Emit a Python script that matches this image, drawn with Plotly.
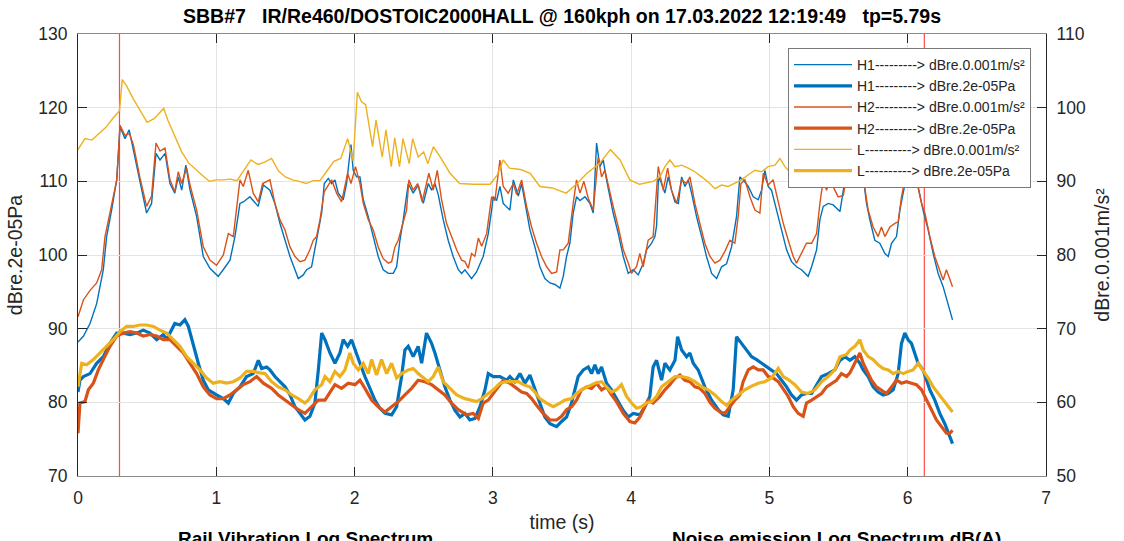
import plotly.graph_objects as go

# ---------------- data ----------------
# thin lines: vibration level, dB re 0.001 m/s^2 (right axis)
H1_ACC = [
(0,68.2),(0.04,69),(0.087,70.7),(0.135,73.4),(0.183,78.0),(0.207,82.5),(0.243,86.1),(0.28,90.2),(0.304,97.4),(0.34,95.8),
(0.37,97.0),(0.40,94.3),(0.448,89.7),(0.496,85.7),(0.532,87),(0.564,93.8),(0.593,92.9),(0.63,93.8),(0.665,89.7),(0.70,88.4),
(0.725,90.6),(0.75,88.8),(0.78,92.2),(0.81,88.8),(0.858,85.2),(0.906,79.8),(0.954,78.2),(1.014,77.1),(1.05,78),(1.099,79.3),
(1.135,82.5),(1.171,87),(1.195,87.2),(1.243,87.9),(1.303,86.6),(1.34,89.5),(1.388,88.8),(1.424,87),(1.46,84.3),(1.497,82),
(1.533,79.8),(1.569,78),(1.593,76.8),(1.629,77.3),(1.653,78),(1.689,78.4),(1.713,80.7),(1.738,83.4),(1.762,85.7),(1.781,89.7),
(1.81,90.4),(1.834,89.7),(1.858,90.2),(1.882,88.4),(1.918,87.5),(1.942,89.7),(1.974,95),(1.99,91.5),(2.015,90.6),(2.039,90.6),
(2.063,87.5),(2.099,85.2),(2.135,82.5),(2.171,79.8),(2.207,78),(2.244,77.5),(2.28,77.5),(2.304,78.4),(2.328,82),(2.352,84.8),
(2.388,89.7),(2.424,88.4),(2.46,89.5),(2.497,87),(2.533,89.7),(2.557,88.8),(2.581,89.7),(2.605,88.2),(2.641,84.8),(2.677,82),
(2.713,79.8),(2.75,78),(2.774,77.5),(2.798,78),(2.846,76.8),(2.882,77.7),(2.93,79.8),(2.967,82.9),(2.991,86.1),(3.003,87.9),
(3.027,87.4),(3.051,89.3),(3.075,87),(3.123,86.1),(3.148,90.2),(3.184,88),(3.208,89.7),(3.232,87),(3.268,83.4),(3.304,81.1),
(3.34,78.4),(3.376,76.8),(3.413,76.2),(3.449,76.0),(3.485,75.5),(3.509,77.1),(3.533,79.8),(3.557,81.6),(3.581,85.7),(3.605,87.9),
(3.63,87.4),(3.666,87.9),(3.702,87),(3.726,85.7),(3.75,95.2),(3.774,92),(3.798,92.9),(3.822,90.2),(3.87,85.7),(3.907,82.9),
(3.943,79.8),(3.979,77.5),(4.015,78),(4.051,77.3),(4.087,78.8),(4.111,80.7),(4.148,81.6),(4.172,82.5),(4.184,84),(4.198,90.6),
(4.22,89.7),(4.244,88.4),(4.268,90.6),(4.292,88.8),(4.317,87.2),(4.341,87),(4.365,90.6),(4.389,89.3),(4.413,90.2),(4.437,88.4),
(4.473,85.2),(4.51,82.5),(4.545,79.8),(4.582,77.5),(4.618,76.8),(4.654,78.4),(4.69,78.8),(4.726,81.1),(4.762,85.2),(4.786,90.6),
(4.81,90.2),(4.847,89.3),(4.883,87.9),(4.919,87.5),(4.943,88.8),(4.967,91.5),(4.991,89.3),(5.015,88.8),(5.051,86.1),(5.088,83.4),
(5.124,80.7),(5.16,79.1),(5.196,78.4),(5.232,78),(5.28,77.1),(5.305,78.4),(5.341,80.7),(5.365,84.8),(5.389,86.6),(5.425,87),
(5.461,86.8),(5.51,85.9),(5.533,88.4),(5.557,91.5),(5.60,93),(5.65,92),(5.678,90.6),(5.702,87),(5.726,84.8),(5.762,82),
(5.798,81.6),(5.835,80.2),(5.859,79.8),(5.883,81.6),(5.919,82.5),(5.943,86.1),(5.967,88.4),(5.991,90.6),(6.02,92),(6.051,90.6),
(6.075,89.3),(6.111,86.1),(6.148,83.4),(6.184,80.2),(6.22,77.5),(6.256,75.7),(6.292,73.4),(6.324,71.2),
]

H2_ACC = [
(0,71.6),(0.039,73.9),(0.087,75.2),(0.135,76.2),(0.171,78.0),(0.195,82.5),(0.231,85.7),(0.28,90.2),(0.304,97.6),(0.34,96.2),
(0.371,96.5),(0.40,95),(0.448,90.5),(0.496,86.6),(0.532,88),(0.564,95.2),(0.593,94.1),(0.629,94.5),(0.665,90.2),(0.70,88.6),
(0.725,91.3),(0.75,89.7),(0.786,91.8),(0.81,89.5),(0.858,86.1),(0.906,81.1),(0.954,79.3),(1.002,78.6),(1.051,80),(1.087,82.9),
(1.123,82.5),(1.171,90.2),(1.195,89.3),(1.231,91.5),(1.267,88.4),(1.304,87.2),(1.335,89.7),(1.388,90.2),(1.424,87),(1.46,84.8),
(1.497,83.4),(1.533,81.1),(1.569,79.8),(1.605,79.1),(1.641,79.3),(1.677,80.7),(1.701,82),(1.725,82.5),(1.75,84.8),(1.781,88.6),
(1.81,89.5),(1.834,90.2),(1.87,88.4),(1.906,87.2),(1.95,91.1),(1.974,89.7),(2.007,92),(2.039,89.7),(2.063,87),(2.099,84.8),
(2.135,83.4),(2.171,81.1),(2.207,79.5),(2.244,78.9),(2.268,79.1),(2.292,81.1),(2.316,82),(2.34,83.8),(2.376,86.1),(2.393,90.2),
(2.424,88.8),(2.456,89.7),(2.489,87.2),(2.537,91.1),(2.569,88.8),(2.598,91.5),(2.629,87.5),(2.665,84.3),(2.701,82.5),(2.738,80.7),
(2.774,79.3),(2.798,79.1),(2.822,78.2),(2.846,80.2),(2.87,79.8),(2.895,82.3),(2.919,81.2),(2.955,82.9),(2.991,87.9),(3.015,87.4),
(3.051,92.9),(3.075,89.3),(3.111,88.4),(3.148,89.7),(3.172,88.2),(3.208,90.2),(3.244,86.6),(3.28,83.8),(3.316,81.6),(3.352,79.8),
(3.389,78.4),(3.425,77.5),(3.461,77.7),(3.485,80.7),(3.509,80.7),(3.545,81.6),(3.581,87),(3.605,90.2),(3.63,88.4),(3.658,90),
(3.69,87.7),(3.726,86.1),(3.762,93.3),(3.786,90.6),(3.81,91.5),(3.834,89.7),(3.87,86.6),(3.907,83.8),(3.943,80.7),(3.979,78.9),
(4.003,77.5),(4.039,78.4),(4.063,80.2),(4.087,78.4),(4.123,82),(4.159,82.5),(4.196,92),(4.232,88.8),(4.264,91.8),(4.292,88.8),
(4.329,87),(4.365,90.2),(4.401,89.7),(4.425,90.6),(4.461,87),(4.497,84.3),(4.533,81.6),(4.57,79.8),(4.606,78.9),(4.642,79.3),
(4.678,80.5),(4.714,82),(4.75,81.6),(4.774,85.2),(4.794,89.7),(4.823,90.2),(4.859,87.9),(4.895,86.1),(4.931,85.7),(4.955,91.1),
(4.991,89.5),(5.027,90.2),(5.064,87),(5.1,84.3),(5.136,82),(5.172,79.8),(5.196,78.9),(5.232,80.2),(5.268,81.6),(5.305,81.6),
(5.341,82.9),(5.365,87),(5.389,90.2),(5.413,88.8),(5.437,90.2),(5.473,88.8),(5.497,87.9),(5.534,88.1),(5.558,90.6),(5.60,92.5),
(5.65,91.5),(5.678,90.6),(5.714,86.1),(5.75,83.8),(5.786,82.5),(5.81,83.8),(5.835,82.5),(5.871,83.8),(5.907,84.3),(5.931,84.5),
(5.955,87.9),(5.979,90.2),(6.015,90.6),(6.063,90.2),(6.1,87),(6.124,85.7),(6.16,82.5),(6.196,79.8),(6.232,78),(6.256,76.6),
(6.28,78),(6.304,76.6),(6.324,75.7),
]

L_ACC = [
(0,94.3),(0.05,95.8),(0.1,95.6),(0.15,96.4),(0.2,97.3),(0.25,98.5),(0.30,99.6),(0.32,103.8),(0.35,103.0),(0.40,101.2),
(0.45,99.5),(0.50,98.0),(0.55,98.5),(0.60,99.5),(0.62,99.9),(0.65,98.3),(0.70,96.2),(0.75,94.0),(0.80,92.5),(0.85,91.6),
(0.90,90.8),(0.95,90.0),(1.0,90.2),(1.05,90.2),(1.1,90.3),(1.15,90.1),(1.2,91.5),(1.25,92.9),(1.3,92.3),(1.35,92.6),
(1.40,93.1),(1.45,91.4),(1.50,90.6),(1.55,90.2),(1.60,90.0),(1.65,89.7),(1.70,90.1),(1.75,90.1),(1.80,91.4),(1.85,92.7),
(1.90,93.1),(1.95,95.8),(1.99,92.8),(2.02,102.1),(2.05,100.8),(2.08,100.4),(2.13,94.7),(2.155,98.3),(2.20,93.3),(2.227,97.0),
(2.265,92.0),(2.29,95.9),(2.325,92.0),(2.35,95.8),(2.395,92.4),(2.42,95.8),(2.46,93.3),(2.50,94.0),(2.53,92.4),(2.57,94.7),
(2.62,93.3),(2.69,91.1),(2.76,89.7),(2.86,89.6),(2.98,89.6),(3.03,90.8),(3.075,92.9),(3.12,91.8),(3.20,91.6),(3.27,91.1),
(3.34,89.3),(3.43,89.1),(3.53,88.4),(3.61,89.7),(3.68,91.1),(3.77,92.4),(3.85,94.3),(3.92,92.9),(3.99,90.2),(4.06,89.6),
(4.16,90),(4.208,90.6),(4.244,92),(4.28,92.9),(4.317,92),(4.365,92.2),(4.413,91.8),(4.461,91.3),(4.51,90.6),(4.557,89.9),
(4.606,89),(4.654,89.5),(4.702,89.3),(4.75,89.7),(4.798,90.2),(4.847,90.9),(4.895,91.5),(4.943,91.3),(4.991,92),(5.04,92.2),
(5.076,93.1),(5.112,92),(5.136,91.5),(5.18,91.0),(5.232,89.7),(5.305,90.4),(5.365,90.2),(5.45,91.5),(5.55,93),(5.65,92),
(5.75,91),(5.85,91.5),(5.95,92.5),(6.05,93),(6.15,92),(6.23,91.5),(6.28,90.0),(6.30,92),(6.324,90.5),
]

# thick lines: noise level, dB re 2e-05 Pa (left axis)
H1_SPL = [
(0,81.4),(0.014,83),(0.039,83.5),(0.087,83.9),(0.135,85.3),(0.183,86.2),(0.231,88),(0.28,89.4),(0.328,89.4),(0.376,89.2),
(0.424,89.4),(0.472,89.8),(0.52,89.4),(0.569,88.5),(0.617,89.2),(0.641,88.5),(0.665,89.4),(0.70,90.7),(0.737,90.5),(0.773,91.2),
(0.798,90.3),(0.834,87.6),(0.87,85.3),(0.906,83),(0.942,81.7),(1.002,81),(1.051,80.5),(1.087,79.9),(1.123,81.2),(1.171,82.1),
(1.219,83.5),(1.267,83.9),(1.304,85.7),(1.328,84.6),(1.364,84.8),(1.388,84.4),(1.424,83.5),(1.46,82.8),(1.497,82.1),(1.533,81),
(1.569,79.4),(1.605,78.5),(1.641,77.6),(1.677,78.1),(1.713,79.9),(1.738,84.4),(1.762,89.4),(1.786,88.5),(1.822,86.7),(1.858,85.3),
(1.894,86.7),(1.918,88.5),(1.95,87.6),(1.978,88.5),(2.003,87.1),(2.039,85.3),(2.075,83.5),(2.111,81.9),(2.147,80.3),(2.183,79.2),
(2.22,78.5),(2.268,78.3),(2.304,79.4),(2.34,83.5),(2.364,87.1),(2.388,87.6),(2.424,86.2),(2.46,87.6),(2.485,85.3),(2.52,89.4),
(2.557,88),(2.581,86.7),(2.617,84.4),(2.653,82.1),(2.69,80.3),(2.726,78.9),(2.762,78),(2.798,78.5),(2.834,77.6),(2.87,77.8),
(2.907,79.4),(2.943,81.7),(2.967,83.9),(3.003,83.5),(3.051,83.5),(3.099,83.0),(3.123,83.5),(3.159,82.8),(3.196,83.9),(3.232,82.6),
(3.268,83.7),(3.304,81.7),(3.34,79.9),(3.376,78),(3.413,77.1),(3.461,76.7),(3.497,77.4),(3.533,78),(3.569,79.9),(3.593,81.7),
(3.617,83.5),(3.654,84.4),(3.69,84.8),(3.714,83.9),(3.738,85.1),(3.762,83.9),(3.786,84.8),(3.822,82.6),(3.858,81.7),(3.894,80.5),
(3.943,78.9),(3.979,78),(4.015,78.5),(4.063,78.3),(4.099,79.4),(4.135,80.8),(4.159,84.8),(4.184,85.7),(4.22,83),(4.244,85.3),
(4.28,84.4),(4.317,85.7),(4.336,88.9),(4.365,87.1),(4.401,86.2),(4.425,86.7),(4.449,85.3),(4.485,84.4),(4.533,82.1),(4.582,80.3),
(4.63,79),(4.666,78.3),(4.702,78.1),(4.738,81.7),(4.762,88.9),(4.798,88),(4.835,87.1),(4.871,86.2),(4.907,85.8),(4.943,85.3),
(4.979,84.8),(5.015,84.4),(5.051,83.9),(5.088,83),(5.124,82.1),(5.16,81),(5.196,80.3),(5.232,81),(5.268,81.2),(5.305,81.2),
(5.341,82.4),(5.377,83.5),(5.425,83.9),(5.473,84.4),(5.51,85.7),(5.546,86.2),(5.582,85.7),(5.618,86.2),(5.654,85.3),(5.678,84.4),
(5.714,83.5),(5.75,82.1),(5.786,81.4),(5.822,81),(5.859,81.2),(5.895,81.7),(5.931,83.9),(5.955,88),(5.979,89.4),(6.003,88.5),
(6.027,88),(6.051,86.7),(6.075,85.3),(6.111,84.4),(6.135,83),(6.16,81.7),(6.196,80.3),(6.232,78.5),(6.268,77.1),(6.304,75.3),
(6.324,74.4),
]

H2_SPL = [
(0,75.8),(0.014,79.9),(0.05,80.1),(0.075,81.7),(0.111,82.6),(0.147,84.4),(0.183,85.8),(0.231,87.6),(0.28,89),(0.328,89.4),
(0.376,89.6),(0.424,89.4),(0.472,89),(0.52,89.2),(0.569,89),(0.617,88.5),(0.665,88.5),(0.713,87.6),(0.761,86.7),(0.81,85.3),
(0.858,83.9),(0.906,82.1),(0.954,81),(1.002,80.5),(1.051,80.5),(1.099,81),(1.147,81.7),(1.195,82.4),(1.243,82.8),(1.292,83.5),
(1.34,82.6),(1.40,81.9),(1.448,81),(1.497,80.3),(1.545,79.6),(1.593,79),(1.641,78.5),(1.689,79.4),(1.738,80.3),(1.786,80.3),
(1.822,81.4),(1.858,82.4),(1.906,81.9),(1.954,82.6),(2.003,82.4),(2.039,83),(2.075,81.9),(2.123,80.3),(2.171,79.4),(2.22,78.7),
(2.268,79.4),(2.316,80.1),(2.364,81),(2.412,81.9),(2.46,83),(2.509,82.8),(2.557,82.4),(2.605,81.7),(2.653,81),(2.701,79.9),
(2.75,79),(2.81,78.3),(2.858,78.5),(2.895,77.8),(2.93,79.9),(2.967,80.3),(3.003,81.2),(3.039,82.1),(3.075,83),(3.123,82.6),
(3.172,81.9),(3.208,81.4),(3.244,81.2),(3.28,80.5),(3.316,79.6),(3.364,78.5),(3.413,77.6),(3.461,77.6),(3.497,78.1),(3.533,79),
(3.569,79.4),(3.605,80.3),(3.641,81.7),(3.678,82.1),(3.714,81.9),(3.75,82.6),(3.786,81.7),(3.822,82.1),(3.858,81),(3.894,80.1),
(3.943,78.5),(3.991,77.4),(4.027,77.2),(4.063,78),(4.099,79.4),(4.123,80.3),(4.159,79.9),(4.208,80.8),(4.244,81.7),(4.28,82.4),
(4.317,83.3),(4.353,83.7),(4.389,83),(4.425,82.8),(4.461,82.1),(4.497,81.9),(4.533,81.2),(4.57,80),(4.606,79.2),(4.642,78.7),
(4.678,78.5),(4.714,79.4),(4.75,80.3),(4.786,81),(4.81,82.8),(4.847,84.4),(4.883,84.8),(4.919,84.4),(4.955,84.4),(4.991,83.5),
(5.027,83.3),(5.064,82.8),(5.1,81.7),(5.136,80.8),(5.172,79.4),(5.208,78.5),(5.244,78.1),(5.268,79.9),(5.305,80.3),(5.341,80.8),
(5.377,81.2),(5.413,82.1),(5.449,82.6),(5.485,83),(5.521,83.9),(5.558,83.5),(5.582,84),(5.618,85.3),(5.654,86.7),(5.678,85.3),
(5.702,84.4),(5.738,83),(5.774,82.1),(5.81,81.7),(5.846,81.2),(5.883,82.1),(5.919,83),(5.955,82.6),(5.991,82.8),(6.027,82.6),
(6.063,82.4),(6.1,81.7),(6.135,80.3),(6.172,79),(6.208,77.6),(6.244,76.7),(6.28,75.8),(6.304,75.8),(6.324,76.2),
]

L_SPL = [
(0,82.1),(0.027,85.3),(0.063,85.1),(0.111,85.8),(0.159,86.7),(0.207,87.6),(0.255,88.5),(0.304,89.6),(0.352,90.3),(0.40,90.3),
(0.448,90.5),(0.496,90.5),(0.545,90.3),(0.593,89.8),(0.641,89.4),(0.689,88.5),(0.737,87.6),(0.786,86.2),(0.834,85.3),(0.882,84.4),
(0.93,83.3),(0.978,82.6),(1.027,82.8),(1.075,82.6),(1.123,82.8),(1.171,83.3),(1.219,84.2),(1.267,84.2),(1.316,84),(1.352,83.9),
(1.40,82.8),(1.448,82.1),(1.497,81.7),(1.545,81),(1.593,80.5),(1.641,79.9),(1.665,80.3),(1.713,81.7),(1.762,82.4),(1.786,83.5),
(1.822,82.8),(1.858,84.2),(1.894,83.5),(1.93,84.4),(1.966,86.7),(1.99,85.3),(2.027,84.4),(2.063,85.3),(2.099,83.9),(2.123,85.8),
(2.159,83.7),(2.195,85.8),(2.232,83.9),(2.268,85.3),(2.304,83.3),(2.34,83.9),(2.388,84.4),(2.424,84.6),(2.46,83.9),(2.497,83.3),
(2.533,82.8),(2.569,83.5),(2.605,84.8),(2.641,82.8),(2.69,81.9),(2.738,81),(2.798,80.5),(2.834,80.3),(2.882,80.1),(2.919,80.5),
(2.955,81),(3.003,81.7),(3.051,82.6),(3.099,82.8),(3.148,82.8),(3.184,82.8),(3.22,82.4),(3.268,82.1),(3.304,81.4),(3.34,80.5),
(3.389,79.9),(3.437,79.4),(3.485,79.9),(3.521,80.3),(3.569,80.5),(3.605,81.2),(3.641,81.7),(3.69,82.1),(3.738,82.6),(3.786,82.8),
(3.822,82.1),(3.858,81.4),(3.894,81.7),(3.93,82.4),(3.967,80.8),(4.003,79.9),(4.039,79.2),(4.075,79.4),(4.111,79.9),(4.148,80.1),
(4.184,80.8),(4.22,82.1),(4.268,82.8),(4.317,83.5),(4.365,83.5),(4.413,83.3),(4.461,82.8),(4.51,82.1),(4.557,81.7),(4.606,81),
(4.654,80.1),(4.69,79.6),(4.726,80.3),(4.774,81),(4.823,81.7),(4.871,82.2),(4.919,82.6),(4.967,82.8),(5.015,83.3),(5.064,84.6),
(5.1,83.5),(5.136,83.1),(5.184,82.4),(5.232,81.4),(5.28,81.2),(5.329,81.7),(5.377,82.8),(5.425,83.5),(5.473,84.4),(5.51,86.2),
(5.558,86.5),(5.582,87.1),(5.618,87.6),(5.654,88.5),(5.678,87.1),(5.714,86.2),(5.75,85.8),(5.786,85.1),(5.822,84.6),(5.859,84.4),
(5.895,83.9),(5.931,84.2),(5.967,83.9),(6.003,84.2),(6.039,84.4),(6.075,85.3),(6.111,84.4),(6.148,83.3),(6.184,82.1),(6.22,81.2),
(6.256,80.3),(6.292,79.4),(6.324,78.7),
]

MARKER_TIMES = [0.30, 6.12]          # red vertical cursor lines (s)
X_TICKS = [0, 1, 2, 3, 4, 5, 6, 7]
Y_LEFT_TICKS = [70, 80, 90, 100, 110, 120, 130]
Y_RIGHT_TICKS = [50, 60, 70, 80, 90, 100, 110]

TITLE = "SBB#7\u00a0\u00a0\u00a0IR/Re460/DOSTOIC2000HALL @ 160kph on 17.03.2022 12:19:49\u00a0\u00a0\u00a0tp=5.79s"
NAMES = [
    "H1---------> dBre.0.001m/s²",
    "H1---------> dBre.2e-05Pa",
    "H2---------> dBre.0.001m/s²",
    "H2---------> dBre.2e-05Pa",
    "L----------> dBre.0.001m/s²",
    "L----------> dBre.2e-05Pa",
]
BLUE, ORANGE, YELLOW = "#0072BD", "#D95319", "#EDB120"

FONT = "Liberation Sans, Arial, Helvetica, sans-serif"
DARK = "#262626"

# figure fills the whole page (body margin removed in post_script)
W, H = 1124, 541
L_M, R_M, T_M, B_M = 78, 78, 34, 65     # plot area -> x 78..1046, y 34..476
PW, PH = W - L_M - R_M, H - T_M - B_M

def px_x(page_x):
    return (page_x - L_M) / PW

def px_y(page_y):
    return (H - B_M - page_y) / PH

# ---------------- figure ----------------
series = [
    (H1_ACC, BLUE, 1.4, "y2"),
    (H1_SPL, BLUE, 3.2, "y"),
    (H2_ACC, ORANGE, 1.4, "y2"),
    (H2_SPL, ORANGE, 3.2, "y"),
    (L_ACC, YELLOW, 1.4, "y2"),
    (L_SPL, YELLOW, 3.2, "y"),
]

fig = go.Figure()
for (pts, col, w, ax), name in zip(series, NAMES):
    t = [p[0] for p in pts]
    v = [p[1] for p in pts]
    fig.add_trace(go.Scatter(x=t, y=v, mode="lines", name=name, yaxis=ax,
                             line=dict(color=col, width=w)))

for tm in MARKER_TIMES:
    fig.add_shape(type="line", xref="x", yref="paper", x0=tm, x1=tm, y0=0, y1=1,
                  line=dict(color="rgba(255,40,40,0.85)", width=1.2), layer="between")

fig.update_layout(
    width=W, height=H,
    margin=dict(l=L_M, r=R_M, t=T_M, b=B_M, autoexpand=False),
    paper_bgcolor="white", plot_bgcolor="white",
    font=dict(family=FONT, color=DARK),
    title=dict(text="<b>" + TITLE + "</b>", x=0.5, xanchor="center", xref="paper",
               y=1 - 16 / H, yanchor="middle", yref="container",
               font=dict(size=19.5, color="black", family=FONT)),
    xaxis=dict(range=[0, 7], tickvals=X_TICKS, ticks="inside", ticklen=9, tickcolor=DARK,
               showline=True, linecolor="#8a8a8a", linewidth=1, mirror="ticks",
               showgrid=True, gridcolor="#e3e3e3", gridwidth=1, zeroline=False,
               tickfont=dict(size=17.5, color=DARK), ticklabelstandoff=6,
               title=dict(text="time (s)", font=dict(size=19.5, color=DARK), standoff=8)),
    yaxis=dict(range=[70, 130], tickvals=Y_LEFT_TICKS, ticks="inside", ticklen=9, tickcolor=DARK,
               showline=True, linecolor=DARK, linewidth=1,
               showgrid=True, gridcolor="#e3e3e3", gridwidth=1, zeroline=False,
               tickfont=dict(size=17.5, color=DARK), ticklabelstandoff=6,
               title=dict(text="dBre.2e-05Pa", font=dict(size=19.5, color=DARK), standoff=10)),
    yaxis2=dict(range=[50, 110], tickvals=Y_RIGHT_TICKS, overlaying="y", side="right",
                ticks="inside", ticklen=9, tickcolor=DARK,
                showline=True, linecolor=DARK, linewidth=1, showgrid=False, zeroline=False,
                tickfont=dict(size=17.5, color=DARK), ticklabelstandoff=6,
                title=dict(text="dBre.0.001m/s²", font=dict(size=19.5, color=DARK), standoff=10)),
    legend=dict(x=px_x(788), y=px_y(48), xanchor="left", yanchor="top",
                bgcolor="white", bordercolor="#7a7a7a", borderwidth=1,
                font=dict(size=14, color=DARK, family=FONT),
                itemwidth=58, tracegroupgap=0),
    showlegend=True,
)

fig.add_annotation(text="<b>Rail Vibration Log Spectrum</b>", xref="paper", yref="paper",
                   x=px_x(305), y=px_y(526), xanchor="center", yanchor="top",
                   showarrow=False, font=dict(size=19, color="black", family=FONT))
fig.add_annotation(text="<b>Noise emission Log Spectrum dB(A)</b>", xref="paper", yref="paper",
                   x=px_x(836), y=px_y(526), xanchor="center", yanchor="top",
                   showarrow=False, font=dict(size=19, color="black", family=FONT))

fig.write_html("out.html", config={"displayModeBar": False},
               post_script="document.body.style.margin='0px';document.body.style.overflow='hidden';")
